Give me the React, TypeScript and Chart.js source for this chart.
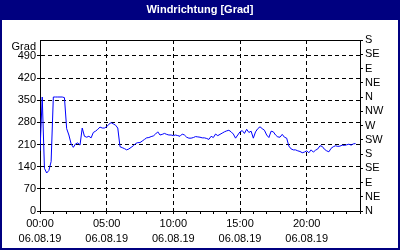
import React, { useEffect, useRef } from 'react';
import { Chart, registerables } from 'chart.js';

Chart.register(...registerables);

const TITLE = 'Windrichtung [Grad]';
const UNIT_LABEL = 'Grad';
const DATE_LABEL = '06.08.19';
const START_HOUR = 0;
const STEP_MINUTES = 10;
const X_MIN = 0;
const X_MAX = 24;
const Y_MIN = 0;
const Y_MAX = 540;

// wind direction in degrees, one value every 10 minutes from 00:00
const windDirection = [
  190, 360, 135, 120, 128, 156, 360, 360, 360, 360, 360, 358,
  260, 240, 212, 201, 212, 215, 208, 262, 236, 233, 236, 231,
  248, 252, 258, 265, 262, 262, 266, 274, 279, 275, 271, 262,
  203, 200, 197, 193, 196, 201, 206, 213, 216, 216, 221, 226,
  231, 232, 235, 237, 243, 250, 240, 242, 245, 242, 240, 240,
  238, 240, 238, 236, 243, 240, 233, 230, 230, 232, 235, 234,
  233, 231, 231, 229, 226, 236, 232, 243, 238, 242, 246, 250,
  253, 255, 250, 243, 230, 240, 250, 254, 245, 258, 248, 252,
  230, 250, 260, 266, 260, 255, 240, 232, 252, 250, 240, 234,
  233, 242, 233, 230, 205, 196, 193, 193, 190, 188, 184, 186,
  190, 184, 193, 186, 192, 196, 206, 204, 195, 190, 187, 198,
  203, 206, 204, 205, 208, 207, 209, 211, 208, 212, 213,
];

const leftTickValues = [0, 70, 140, 210, 280, 350, 420, 490];
const compassLabels = ['N', 'NE', 'E', 'SE', 'S', 'SW', 'W', 'NW', 'N', 'NE', 'E', 'SE', 'S'];
const COMPASS_STEP = 45;
const majorHours = [0, 5, 10, 15, 20];

const NAVY = '#000080';
const BLACK = '#000000';
const CLEAR = 'rgba(0,0,0,0)';

const frame = {
  id: 'frame',
  beforeDraw(chart: any) {
    const { ctx, width, height } = chart;
    ctx.save();
    ctx.fillStyle = '#ffffff';
    ctx.fillRect(0, 0, width, height);
    ctx.fillStyle = NAVY;
    ctx.fillRect(0, 0, width, 20);
    ctx.fillRect(0, 0, 2, height);
    ctx.fillRect(width - 2, 0, 2, height);
    ctx.fillRect(0, height - 2, width, 2);
    ctx.fillStyle = '#ffffff';
    ctx.font = 'bold 11px "Liberation Sans"';
    ctx.textAlign = 'center';
    ctx.textBaseline = 'middle';
    ctx.fillText(TITLE, width / 2, 9.5);
    ctx.restore();
  },
  afterDraw(chart: any) {
    const { ctx, chartArea } = chart;
    ctx.save();
    ctx.strokeStyle = BLACK;
    ctx.lineWidth = 1;
    ctx.beginPath();
    ctx.moveTo(chartArea.left, chartArea.top + 0.5);
    ctx.lineTo(chartArea.right + 1, chartArea.top + 0.5);
    ctx.stroke();
    ctx.restore();
  },
};

const pad2 = (n: number) => (n < 10 ? '0' + n : '' + n);

export default function App() {
  const ref = useRef<HTMLCanvasElement>(null);

  useEffect(() => {
    if (!ref.current) return;
    Chart.defaults.font.family = '"Liberation Sans", Arial, sans-serif';
    Chart.defaults.font.size = 11;
    Chart.defaults.color = BLACK;

    const points = windDirection.map((v, i) => ({
      x: START_HOUR + (i * STEP_MINUTES) / 60,
      y: v,
    }));

    const chart = new Chart(ref.current, {
      type: 'line',
      data: {
        datasets: [
          {
            data: points,
            borderColor: '#0000ff',
            borderWidth: 1,
            pointRadius: 0,
            tension: 0,
            fill: false,
            yAxisID: 'y',
          },
        ],
      },
      options: {
        animation: false,
        responsive: false,
        maintainAspectRatio: false,
        devicePixelRatio: 1,
        layout: { padding: { top: 40, left: 0, right: 0, bottom: 0 } },
        plugins: {
          legend: { display: false },
          title: { display: false },
          tooltip: { enabled: false },
        },
        scales: {
          x: {
            type: 'linear',
            position: 'bottom',
            min: X_MIN,
            max: X_MAX,
            afterFit: (s: any) => {
              s.height = 39;
            },
            afterBuildTicks: (s: any) => {
              const t = [];
              for (let h = X_MIN; h <= X_MAX; h++) t.push({ value: h });
              s.ticks = t;
            },
            ticks: {
              autoSkip: false,
              maxRotation: 0,
              padding: 2,
              font: { size: 11, lineHeight: '15px' },
              callback: (value: any) =>
                majorHours.includes(Number(value))
                  ? [pad2(Number(value)) + ':00', DATE_LABEL]
                  : '',
            },
            grid: {
              color: (c: any) =>
                c.tick && majorHours.includes(c.tick.value) && c.tick.value !== X_MIN ? BLACK : CLEAR,
              tickColor: BLACK,
              tickLength: 3,
              lineWidth: 1,
            },
            border: { display: true, color: BLACK, width: 1, dash: [4, 3] },
          },
          y: {
            type: 'linear',
            position: 'left',
            min: Y_MIN,
            max: Y_MAX,
            afterFit: (s: any) => {
              s.width = 40;
            },
            afterBuildTicks: (s: any) => {
              s.ticks = [...leftTickValues, Y_MAX].map((v) => ({ value: v }));
            },
            ticks: {
              autoSkip: false,
              padding: 1,
              callback: (value: any) => (Number(value) === Y_MAX ? ['', UNIT_LABEL] : String(value)),
            },
            grid: {
              color: (c: any) =>
                c.tick && c.tick.value !== Y_MIN && c.tick.value !== Y_MAX ? BLACK : CLEAR,
              tickColor: (c: any) => (c.tick && c.tick.value === Y_MAX ? CLEAR : BLACK),
              tickLength: 3,
              lineWidth: 1,
            },
            border: { display: true, color: BLACK, width: 1, dash: [4, 3] },
          },
          y2: {
            type: 'linear',
            position: 'right',
            min: Y_MIN,
            max: Y_MAX,
            afterFit: (s: any) => {
              s.width = 40;
            },
            afterBuildTicks: (s: any) => {
              s.ticks = compassLabels.map((_, i) => ({ value: i * COMPASS_STEP }));
            },
            ticks: {
              autoSkip: false,
              padding: 2,
              callback: (_v: any, i: number) => compassLabels[i],
            },
            grid: {
              drawOnChartArea: false,
              tickColor: BLACK,
              tickLength: 3,
            },
            border: { display: true, color: BLACK, width: 1 },
          },
        },
      },
      plugins: [frame],
    });
    return () => chart.destroy();
  }, []);

  return (
    <div style={{ position: 'absolute', left: 0, top: 0, width: 400, height: 250 }}>
      <canvas ref={ref} width={400} height={250} style={{ display: 'block', width: 400, height: 250 }} />
    </div>
  );
}
